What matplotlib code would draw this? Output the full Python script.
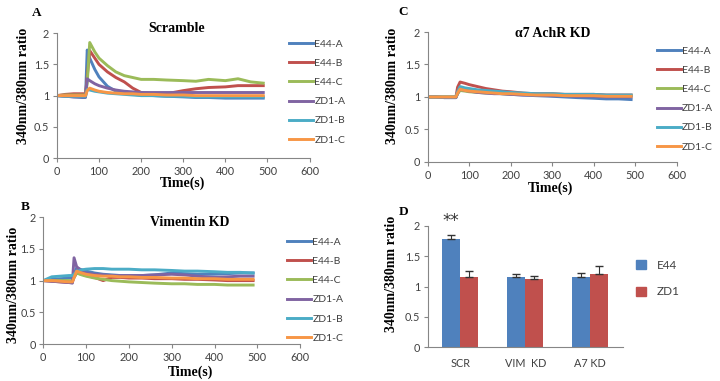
import matplotlib
matplotlib.use("Agg")
import matplotlib.pyplot as plt
from matplotlib.patches import Patch

# time points (s)
t = [0, 20, 40, 60, 68, 72, 78, 90, 100, 120, 140, 160, 180, 200, 230, 260, 300, 330, 360, 400, 430, 460, 490]
names = ["E44-A", "E44-B", "E44-C", "ZD1-A", "ZD1-B", "ZD1-C"]

# A: Scramble
scr_e44a = [1.0, 0.99, 0.98, 0.97, 0.97, 1.73, 1.60, 1.42, 1.30, 1.15, 1.07, 1.04, 1.02, 1.01, 1.0, 0.99, 0.98, 0.97, 0.97, 0.96, 0.96, 0.96, 0.96]
scr_e44b = [1.0, 1.02, 1.03, 1.03, 1.03, 1.3, 1.72, 1.60, 1.50, 1.38, 1.29, 1.22, 1.12, 1.05, 1.03, 1.03, 1.08, 1.11, 1.13, 1.14, 1.16, 1.16, 1.16]
scr_e44c = [1.0, 1.01, 1.01, 1.01, 1.01, 1.2, 1.85, 1.70, 1.60, 1.48, 1.38, 1.32, 1.29, 1.26, 1.26, 1.25, 1.24, 1.23, 1.26, 1.24, 1.27, 1.22, 1.20]
scr_zd1a = [1.0, 0.99, 0.98, 0.98, 0.98, 1.27, 1.24, 1.19, 1.16, 1.12, 1.09, 1.07, 1.06, 1.05, 1.05, 1.05, 1.05, 1.05, 1.05, 1.05, 1.05, 1.05, 1.05]
scr_zd1b = [1.0, 0.99, 0.99, 0.99, 0.99, 1.10, 1.09, 1.07, 1.06, 1.04, 1.03, 1.02, 1.01, 1.00, 1.0, 0.99, 0.99, 0.98, 0.98, 0.98, 0.98, 0.98, 0.98]
scr_zd1c = [1.0, 1.0, 1.0, 1.0, 1.0, 1.08, 1.12, 1.09, 1.07, 1.05, 1.04, 1.03, 1.03, 1.02, 1.02, 1.01, 1.01, 1.0, 1.0, 1.0, 1.0, 1.0, 1.0]

# B: Vimentin KD
vim_e44a = [1.0, 1.02, 1.03, 1.04, 1.05, 1.1, 1.2, 1.17, 1.15, 1.12, 1.10, 1.09, 1.08, 1.08, 1.08, 1.09, 1.12, 1.11, 1.1, 1.1, 1.11, 1.12, 1.12]
vim_e44b = [1.0, 0.99, 0.98, 0.97, 0.97, 1.05, 1.12, 1.10, 1.08, 1.05, 1.0, 1.05, 1.05, 1.04, 1.04, 1.03, 1.03, 1.02, 1.02, 1.01, 1.0, 1.0, 1.0]
vim_e44c = [1.0, 1.0, 1.0, 1.0, 1.0, 1.05, 1.12, 1.09, 1.07, 1.04, 1.02, 1.0, 0.99, 0.98, 0.97, 0.96, 0.95, 0.95, 0.94, 0.94, 0.93, 0.93, 0.93]
vim_zd1a = [1.0, 0.99, 0.98, 0.97, 0.96, 1.36, 1.22, 1.15, 1.12, 1.1, 1.09, 1.08, 1.08, 1.08, 1.08, 1.09, 1.1, 1.09, 1.07, 1.05, 1.06, 1.07, 1.07]
vim_zd1b = [1.0, 1.06, 1.07, 1.08, 1.08, 1.10, 1.14, 1.17, 1.18, 1.19, 1.19, 1.18, 1.18, 1.18, 1.17, 1.17, 1.16, 1.15, 1.15, 1.14, 1.13, 1.13, 1.12]
vim_zd1c = [1.0, 1.0, 0.99, 0.98, 0.98, 1.05, 1.15, 1.12, 1.10, 1.08, 1.07, 1.07, 1.06, 1.06, 1.05, 1.05, 1.04, 1.04, 1.03, 1.03, 1.02, 1.02, 1.02]

# C: a7 AchR KD
a7_e44a = [1.0, 1.0, 0.99, 0.99, 0.99, 1.05, 1.13, 1.11, 1.10, 1.08, 1.07, 1.06, 1.05, 1.04, 1.03, 1.02, 1.01, 1.0, 0.99, 0.98, 0.97, 0.97, 0.96]
a7_e44b = [1.0, 1.0, 1.0, 1.0, 1.0, 1.15, 1.23, 1.21, 1.19, 1.16, 1.13, 1.11, 1.09, 1.08, 1.06, 1.05, 1.05, 1.04, 1.04, 1.04, 1.03, 1.03, 1.03]
a7_e44c = [1.0, 1.0, 1.0, 1.0, 1.0, 1.05, 1.10, 1.09, 1.08, 1.07, 1.06, 1.06, 1.05, 1.05, 1.04, 1.04, 1.03, 1.03, 1.03, 1.02, 1.02, 1.02, 1.02]
a7_zd1a = [1.0, 1.0, 0.99, 0.99, 0.99, 1.06, 1.12, 1.10, 1.09, 1.07, 1.06, 1.05, 1.05, 1.04, 1.03, 1.03, 1.02, 1.02, 1.01, 1.01, 1.0, 1.0, 1.0]
a7_zd1b = [1.0, 1.0, 1.0, 1.0, 1.0, 1.08, 1.16, 1.14, 1.13, 1.11, 1.10, 1.09, 1.08, 1.07, 1.06, 1.05, 1.05, 1.04, 1.04, 1.04, 1.03, 1.03, 1.03]
a7_zd1c = [1.0, 1.0, 1.0, 1.0, 1.0, 1.06, 1.12, 1.10, 1.09, 1.08, 1.07, 1.06, 1.05, 1.05, 1.04, 1.03, 1.03, 1.02, 1.02, 1.02, 1.01, 1.01, 1.01]

# D: summary bars
groups = ["SCR", "VIM  KD", "A7 KD"]
e44_mean = [1.78, 1.15, 1.15]
e44_err = [0.07, 0.06, 0.08]
zd1_mean = [1.16, 1.12, 1.21]
zd1_err = [0.09, 0.05, 0.13]

colors = ["#4F81BD", "#C0504D", "#9BBB59", "#8064A2", "#4BACC6", "#F79646"]
serif = "Liberation Serif"
sans = "Lato"
tick_col = "#404040"

fig = plt.figure(figsize=(7.2, 3.81), dpi=100)


def style_axes(ax):
    for s in ["top", "right"]:
        ax.spines[s].set_visible(False)
    for s in ["left", "bottom"]:
        ax.spines[s].set_color("#868686")
        ax.spines[s].set_linewidth(0.8)
    ax.tick_params(colors="#868686", labelcolor=tick_col, labelsize=7.8, length=3, width=0.8, pad=2.5)
    for lab in ax.get_xticklabels() + ax.get_yticklabels():
        lab.set_fontfamily(sans)


def line_panel(ax, series, leg_x, leg_y):
    for vals, name, c in zip(series, names, colors):
        ax.plot(t, vals, color=c, lw=2.1, label=name)
    ax.set_xlim(0, 600)
    ax.set_ylim(0, 2)
    ax.set_xticks(range(0, 601, 100))
    ax.set_yticks([0, 0.5, 1, 1.5, 2])
    ax.set_yticklabels(["0", "0.5", "1", "1.5", "2"])
    style_axes(ax)
    leg = ax.legend(loc="upper left", bbox_to_anchor=(leg_x, leg_y), frameon=False,
                    handlelength=2.3, handletextpad=0.1, labelspacing=0.95,
                    borderpad=0, borderaxespad=0, prop={"family": sans, "size": 7.5})
    for tx in leg.get_texts():
        tx.set_color(tick_col)


axA = fig.add_axes([0.079, 0.585, 0.351, 0.328])
line_panel(axA, [scr_e44a, scr_e44b, scr_e44c, scr_zd1a, scr_zd1b, scr_zd1c], 0.92, 0.95)

axC = fig.add_axes([0.594, 0.575, 0.346, 0.341])
line_panel(axC, [a7_e44a, a7_e44b, a7_e44c, a7_zd1a, a7_zd1b, a7_zd1c], 0.92, 0.89)

axB = fig.add_axes([0.060, 0.097, 0.357, 0.333])
line_panel(axB, [vim_e44a, vim_e44b, vim_e44c, vim_zd1a, vim_zd1b, vim_zd1c], 0.95, 0.84)

# D bars
axD = fig.add_axes([0.594, 0.089, 0.271, 0.318])
x = list(range(len(groups)))
w = 0.28
xe = [i - w / 2 for i in x]
xz = [i + w / 2 for i in x]
axD.bar(xe, e44_mean, width=w, color=colors[0], label="E44")
axD.bar(xz, zd1_mean, width=w, color=colors[1], label="ZD1")
axD.errorbar(xe, e44_mean, yerr=[[0] * 3, e44_err], fmt="none", ecolor="#333333", elinewidth=0.8, capsize=3)
axD.errorbar(xz, zd1_mean, yerr=[[0] * 3, zd1_err], fmt="none", ecolor="#333333", elinewidth=0.8, capsize=3)
axD.set_xlim(-0.5, 2.5)
axD.set_ylim(0, 2)
axD.set_xticks(x)
axD.set_xticklabels(groups)
axD.set_yticks([0, 0.5, 1, 1.5, 2])
axD.set_yticklabels(["0", "0.5", "1", "1.5", "2"])
style_axes(axD)
axD.tick_params(axis="x", length=0, pad=8)
axD.text(xe[0], 1.93, "**", ha="center", va="bottom", fontsize=12, color="#333333", family="DejaVu Sans")
legD = axD.legend(handles=[Patch(color=colors[0], label="E44"), Patch(color=colors[1], label="ZD1")],
                  loc="upper left", bbox_to_anchor=(1.07, 0.72), frameon=False,
                  handlelength=0.8, handleheight=0.8, handletextpad=0.9, labelspacing=1.3,
                  borderpad=0, borderaxespad=0, prop={"family": sans, "size": 8.5})
for tx in legD.get_texts():
    tx.set_color(tick_col)

# panel letters, titles, axis labels
bold = dict(family=serif, fontweight="bold")
fig.text(0.051, 0.966, "A", fontsize=9.5, ha="center", va="center", **bold)
fig.text(0.560, 0.969, "C", fontsize=9.5, ha="center", va="center", **bold)
fig.text(0.035, 0.457, "B", fontsize=9.5, ha="center", va="center", **bold)
fig.text(0.560, 0.444, "D", fontsize=9.5, ha="center", va="center", **bold)

fig.text(0.246, 0.924, "Scramble", fontsize=10, ha="center", va="center", **bold)
fig.text(0.767, 0.913, "α7 AchR KD", fontsize=10, ha="center", va="center", **bold)
fig.text(0.264, 0.415, "Vimentin KD", fontsize=10, ha="center", va="center", **bold)

ylab = "340nm/380nm ratio"
fig.text(0.033, 0.774, ylab, fontsize=10, rotation=90, ha="center", va="center", **bold)
fig.text(0.545, 0.774, ylab, fontsize=10, rotation=90, ha="center", va="center", **bold)
fig.text(0.019, 0.252, ylab, fontsize=10, rotation=90, ha="center", va="center", **bold)
fig.text(0.544, 0.281, ylab, fontsize=10, rotation=90, ha="center", va="center", **bold)

fig.text(0.253, 0.520, "Time(s)", fontsize=10, ha="center", va="center", **bold)
fig.text(0.764, 0.505, "Time(s)", fontsize=10, ha="center", va="center", **bold)
fig.text(0.264, 0.022, "Time(s)", fontsize=10, ha="center", va="center", **bold)

fig.savefig("out.png", dpi=100)
